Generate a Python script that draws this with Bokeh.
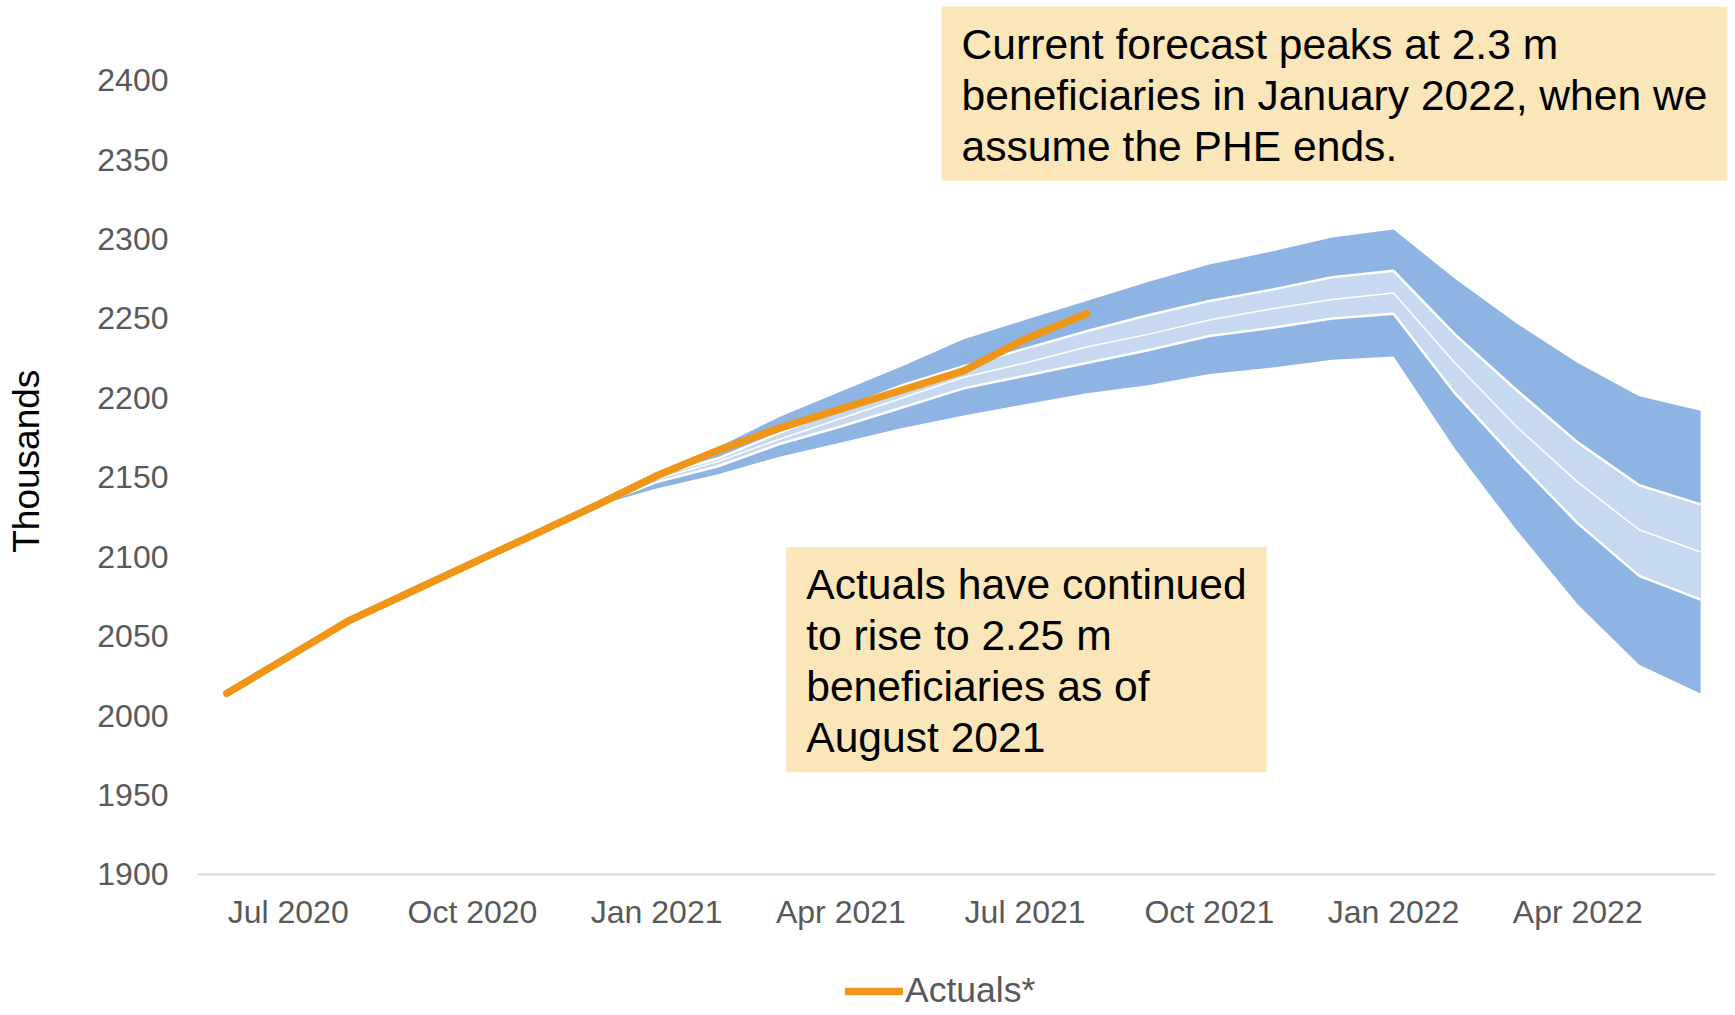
from bokeh.plotting import figure
from bokeh.models import Range1d, FixedTicker, Label, Legend, LegendItem, ColumnDataSource
from bokeh.embed import file_html
from bokeh.resources import INLINE

# ---------------- data ----------------
months = ["Jun 2020", "Jul 2020", "Aug 2020", "Sep 2020", "Oct 2020", "Nov 2020",
          "Dec 2020", "Jan 2021", "Feb 2021", "Mar 2021", "Apr 2021", "May 2021",
          "Jun 2021", "Jul 2021", "Aug 2021", "Sep 2021", "Oct 2021", "Nov 2021",
          "Dec 2021", "Jan 2022", "Feb 2022", "Mar 2022", "Apr 2022", "May 2022",
          "Jun 2022"]

actuals = [2014, 2037, 2060, 2078, 2096, 2114, 2132, 2151, 2167, 2181, 2193,
           2205, 2217, 2237, 2253]

forecast_start = "Dec 2020"
outer_hi = [2132, 2153, 2169, 2188, 2204, 2220, 2237, 2249, 2261, 2273, 2284,
            2292, 2301, 2306, 2275, 2247, 2222, 2201, 2192]
inner_hi = [2132, 2151, 2162, 2178, 2193, 2208, 2220, 2231, 2242, 2252, 2261,
            2268, 2276, 2280, 2240, 2205, 2172, 2145, 2133]
mid      = [2132, 2149, 2160, 2174, 2187, 2200, 2213, 2222, 2232, 2240, 2249,
            2256, 2262, 2266, 2222, 2182, 2147, 2117, 2103]
inner_lo = [2132, 2147, 2157, 2171, 2182, 2194, 2206, 2214, 2222, 2230, 2239,
            2244, 2250, 2253, 2203, 2161, 2121, 2088, 2073]
outer_lo = [2132, 2143, 2152, 2163, 2172, 2181, 2189, 2196, 2203, 2208, 2215,
            2219, 2224, 2226, 2168, 2117, 2070, 2032, 2014]

tick_labels = ["Jul 2020", "Oct 2020", "Jan 2021", "Apr 2021", "Jul 2021",
               "Oct 2021", "Jan 2022", "Apr 2022"]
y_ticks = [1900, 1950, 2000, 2050, 2100, 2150, 2200, 2250, 2300, 2350, 2400]
y_min = 1900

note_top = "Current forecast peaks at 2.3 m\nbeneficiaries in January 2022, when we\nassume the PHE ends."
note_mid = "Actuals have continued\nto rise to 2.25 m\nbeneficiaries as of\nAugust 2021"

# ---------------- styling ----------------
FONT = "Liberation Sans"
GREY = "#595959"
DARK_BLUE = "#8EB4E3"
LIGHT_BLUE = "#C6D9F1"
ORANGE = "#EF9619"
NOTE_BG = "#FAE6B9"
NBSP = "\u00a0"

x_act = list(range(len(actuals)))
i0 = months.index(forecast_start)
x_fc = [i0 + i for i in range(len(mid))]

src = ColumnDataSource(dict(x=x_fc, ohi=outer_hi, ihi=inner_hi, mid=mid,
                            ilo=inner_lo, olo=outer_lo))

p = figure(width=1730, height=1014, output_backend="svg", toolbar_location=None,
           x_range=Range1d(-0.477, 24.487), y_range=Range1d(1811.87, 2450.17),
           min_border_left=197, min_border_right=0, min_border_top=0,
           min_border_bottom=0)
p.outline_line_color = None
p.background_fill_color = "white"
p.border_fill_color = "white"
p.xgrid.visible = False
p.ygrid.visible = False

p.varea(x="x", y1="olo", y2="ohi", source=src, fill_color=DARK_BLUE)
p.varea(x="x", y1="ilo", y2="ihi", source=src, fill_color=LIGHT_BLUE)
p.line(x="x", y="ihi", source=src, line_color="white", line_width=2.5)
p.line(x="x", y="ilo", source=src, line_color="white", line_width=2.5)
p.line(x="x", y="mid", source=src, line_color="white", line_width=1.5)
act = p.line(x_act, actuals, line_color=ORANGE, line_width=7.5,
             line_cap="round", line_join="round")

# axes
xa = p.xaxis[0]
xa.fixed_location = y_min
xa.ticker = FixedTicker(ticks=[months.index(t) for t in tick_labels])
xa.major_label_overrides = {months.index(t): t for t in tick_labels}
xa.bounds = (-0.477, 24.246)
xa.axis_line_color = "#D9D9D9"
xa.axis_line_width = 2
xa.major_tick_line_color = None
xa.minor_tick_line_color = None
xa.major_tick_out = 0
xa.major_label_standoff = 20
xa.major_label_text_font = FONT
xa.major_label_text_font_size = "32px"
xa.major_label_text_color = GREY

ya = p.yaxis[0]
ya.ticker = FixedTicker(ticks=y_ticks)
ya.axis_line_color = None
ya.major_tick_line_color = None
ya.minor_tick_line_color = None
ya.major_tick_out = 0
ya.major_label_standoff = 29
ya.major_label_text_font = FONT
ya.major_label_text_font_size = "32px"
ya.major_label_text_color = GREY
ya.axis_label = NBSP * 9 + "Thousands"
ya.axis_label_text_font = FONT
ya.axis_label_text_font_size = "37px"
ya.axis_label_text_font_style = "normal"
ya.axis_label_text_color = "black"
ya.axis_label_standoff = 47

# annotation boxes
pad = dict(left=20, right=20, top=14, bottom=11)
p.add_layout(Label(x=11.64, y=2446.4, text=note_top, anchor="top_left",
                   text_font=FONT, text_font_size="42.6px", text_color="black",
                   text_line_height=1.055, background_fill_color=NOTE_BG,
                   padding=pad))
pad2 = dict(left=20, right=20, top=13, bottom=11)
p.add_layout(Label(x=9.11, y=2106.1, text=note_mid, anchor="top_left",
                   text_font=FONT, text_font_size="42.6px", text_color="black",
                   text_line_height=1.063, background_fill_color=NOTE_BG,
                   padding=pad2))

legend = Legend(items=[LegendItem(label="Actuals*", renderers=[act])],
                location=(648, 3), orientation="horizontal",
                padding=0, margin=0, spacing=0,
                glyph_width=58, glyph_height=20, label_standoff=2,
                label_text_font=FONT, label_text_font_size="35.5px",
                label_text_color=GREY, border_line_color=None,
                background_fill_alpha=0)
p.add_layout(legend)

open("out.html", "w").write(file_html(p, INLINE))
